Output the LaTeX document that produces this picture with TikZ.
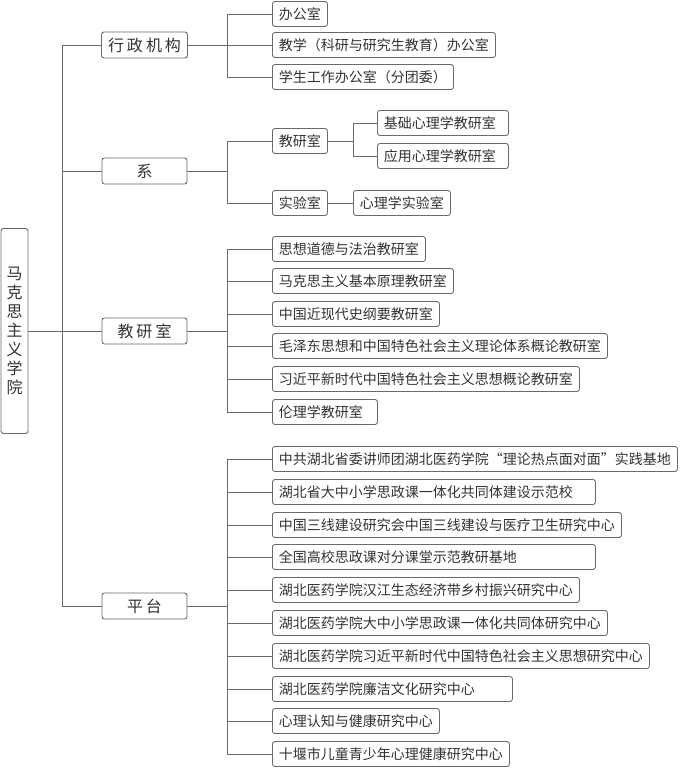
\documentclass[tikz,border=0pt]{standalone}
\usepackage{fontspec}
\setmainfont{Noto Sans CJK SC}
\newfontfamily\fwq[CharacterWidth=Full]{Noto Sans CJK SC}
\usepackage{tikz}
\definecolor{linegray}{HTML}{6A6A6A}
\definecolor{textgray}{HTML}{333333}

\begin{document}
\begin{tikzpicture}[x=1pt,y=-1pt,line width=0.9pt,draw=linegray,
	every node/.style={draw=linegray,rounded corners=2.5pt,text=textgray,inner xsep=6.5pt,inner ysep=0pt,minimum height=25pt,font=\fontsize{14}{16}\selectfont},
	leaf/.style={anchor=west},
	boxw/.style={text width=#1,align=left},
	cat/.style={minimum width=85pt,minimum height=26pt,font=\fontsize{16}{18}\selectfont}]
							\useasboundingbox (0,0) rectangle (680,768);

							\node (root) [minimum width=27pt,minimum height=205pt,inner xsep=3pt,align=center,font=\fontsize{16}{19}\selectfont] at (14.5,331) {马\\克\\思\\主\\义\\学\\院};

							\node (xz) [cat] at (144.5,45) {行\hspace{3pt}政\hspace{3pt}机\hspace{3pt}构};
							\node (xi) [cat] at (144.5,171) {系};
							\node (jy) [cat] at (144.5,331) {教\hspace{3pt}研\hspace{3pt}室};
							\node (pt) [cat] at (144.5,606) {平\hspace{3pt}台};

							\node (bgs) [leaf] at (272,14) {办公室};
							\node (jxbgs) [leaf] at (272,45) {教学（科研与研究生教育）办公室};
							\node (xsbgs) [leaf] at (272,77) {学生工作办公室（分团委）};

							\node (jys) [leaf] at (272,141) {教研室};
							\node (sys) [leaf] at (272,203) {实验室};
							\node (jcxl) [leaf,boxw=118pt] at (377,123) {基础心理学教研室};
							\node (yyxl) [leaf,boxw=118pt] at (377,156) {应用心理学教研室};
							\node (xlsys) [leaf] at (353,203) {心理学实验室};

							\node (sx) [leaf] at (272,249) {思想道德与法治教研室};
							\node (mk) [leaf] at (272,281) {马克思主义基本原理教研室};
							\node (zg) [leaf] at (272,314) {中国近现代史纲要教研室};
							\node (mz) [leaf] at (272,346) {毛泽东思想和中国特色社会主义理论体系概论教研室};
							\node (xj) [leaf] at (272,379) {习近平新时代中国特色社会主义思想概论教研室};
							\node (ll) [leaf,boxw=92pt] at (272,412) {伦理学教研室};

							\node (p1) [leaf] at (272,459) {中共湖北省委讲师团湖北医药学院{\fwq “}理论热点面对面{\fwq ”}实践基地};
							\node (p2) [leaf,boxw=310pt] at (272,492) {湖北省大中小学思政课一体化共同体建设示范校};
							\node (p3) [leaf] at (272,525) {中国三线建设研究会中国三线建设与医疗卫生研究中心};
							\node (p4) [leaf,boxw=310pt] at (272,557) {全国高校思政课对分课堂示范教研基地};
							\node (p5) [leaf] at (272,590) {湖北医药学院汉江生态经济带乡村振兴研究中心};
							\node (p6) [leaf] at (272,623) {湖北医药学院大中小学思政课一体化共同体研究中心};
							\node (p7) [leaf] at (272,656) {湖北医药学院习近平新时代中国特色社会主义思想研究中心};
							\node (p8) [leaf,boxw=227pt] at (272,689) {湖北医药学院廉洁文化研究中心};
							\node (p9) [leaf] at (272,721) {心理认知与健康研究中心};
							\node (p10) [leaf] at (272,754) {十堰市儿童青少年心理健康研究中心};

							\coordinate (c0) at (62,331);
							\coordinate (c1) at (227,45);
							\coordinate (c2) at (227,171);
							\coordinate (c3) at (353,141);
							\coordinate (c4) at (227,331);
							\coordinate (c5) at (227,606);

							\foreach \from/\to in {root/c0,xz/c1,xi/c2,jys/c3,jy/c4,pt/c5,sys/xlsys}
								\draw (\from) -- (\to);

							\foreach \from/\to in {c0/xz,c0/xi,c0/jy,c0/pt,c1/bgs,c1/jxbgs,c1/xsbgs,c2/jys,c2/sys,c3/jcxl,c3/yyxl}
								\draw (\from) |- (\to.west);

							\foreach \to in {sx,mk,zg,mz,xj,ll}
								\draw (c4) |- (\to.west);

							\foreach \to in {p1,p2,p3,p4,p5,p6,p7,p8,p9,p10}
								\draw (c5) |- (\to.west);

						\end{tikzpicture}
\end{document}
